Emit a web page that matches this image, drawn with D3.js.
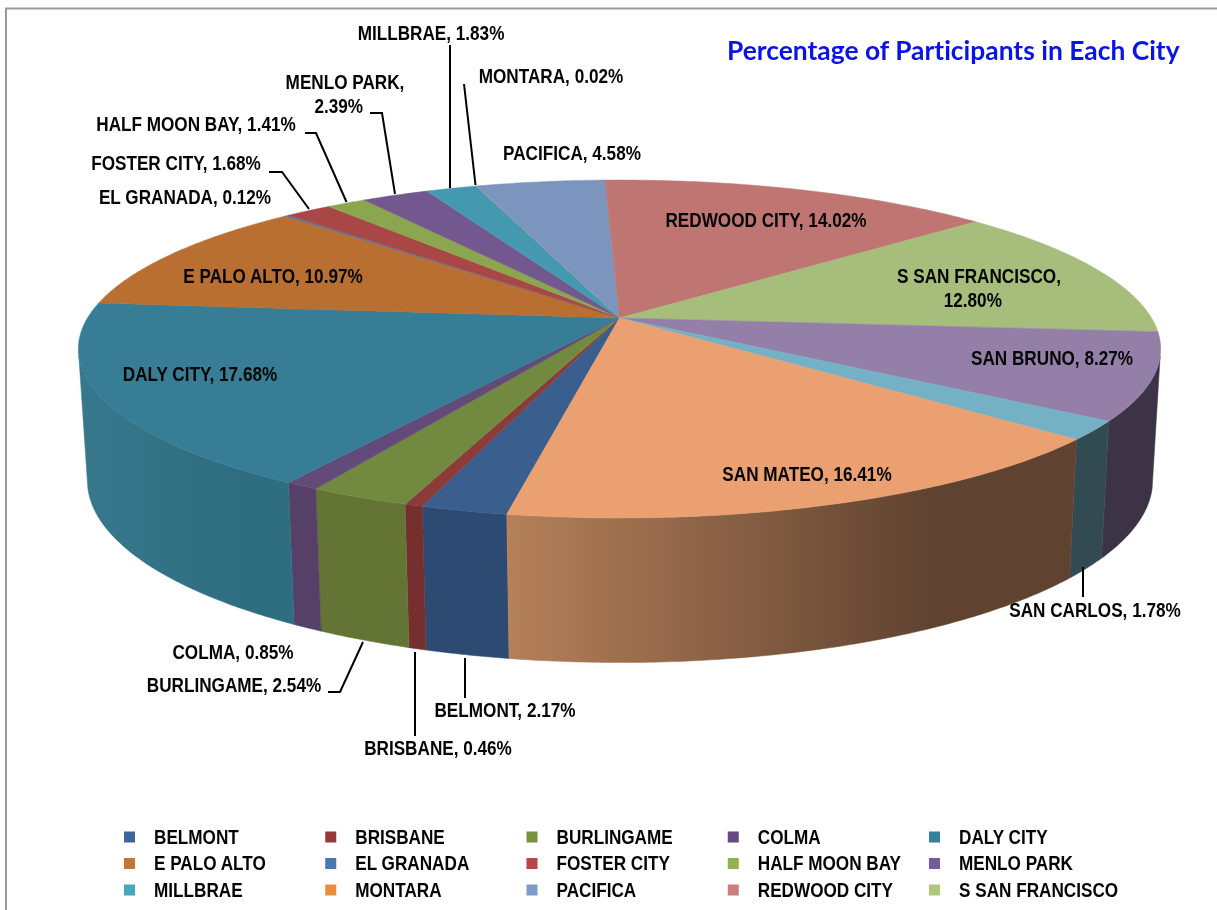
<!DOCTYPE html>
<html lang="en">
    <head>
        <meta charset="utf-8">
        <title>Percentage of Participants in Each City</title>
        <script type="text/javascript" src="https://d3js.org/d3.v7.min.js"></script>
        <style type="text/css">
            body { margin: 0; background: white; }
            svg { display: block; filter: blur(0.45px); }
            text {
                font-family: "Liberation Sans", Arial, sans-serif;
                font-weight: bold;
                font-size: 19.4px;
                fill: #050505;
            }
            .title {
                font-family: Lato, sans-serif;
                font-size: 26.4px;
                font-variant-ligatures: none;
                fill: #0a14e6;
            }
        </style>
    </head>
    <body>
        <script type="text/javascript">

        // Data, slices run clockwise from BELMONT
        var cities = ["BELMONT", "BRISBANE", "BURLINGAME", "COLMA", "DALY CITY", "E PALO ALTO", "EL GRANADA",
            "FOSTER CITY", "HALF MOON BAY", "MENLO PARK", "MILLBRAE", "MONTARA", "PACIFICA", "REDWOOD CITY",
            "S SAN FRANCISCO", "SAN BRUNO", "SAN CARLOS", "SAN MATEO"];
        var percents = [2.17, 0.46, 2.54, 0.85, 17.68, 10.97, 0.12, 1.68, 1.41, 2.39, 1.83, 0.02, 4.58, 14.02, 12.80, 8.27, 1.78, 16.41];

        // the legend is cut off by the bottom of the picture after 15 entries
        var legendCount = 15;

        var topColors = ["#3a5f8f", "#8d3b39", "#728a40", "#624b79", "#377d96", "#b86f31", "#4d76a9", "#a84745", "#8ba64e",
            "#73588f", "#4499b0", "#d9a070", "#7c95be", "#bf7673", "#a7bd7c", "#947fa8", "#74b1c5", "#eba071"];
        var legendColors = ["#3d6595", "#953a38", "#799142", "#644b80", "#35809a", "#c17732", "#4977b3", "#b14845", "#93b24f",
            "#77599d", "#47a7bf", "#ea8c3e", "#7f9cc8", "#cb7d7b", "#afc67f", "#947fa8", "#74b1c5", "#eba071"];
        var wallLeft = ["#2d4b72", "#742f2e", "#637434", "#564067", "#37788c", "#8a5a2a", "#3a5f8f", "#8d3b39", "#728a40",
            "#5f4a78", "#37808f", "#b06a30", "#64799a", "#9c605e", "#8a9b65", "#3d3346", "#324b52", "#b5805a"];
        var wallRight = ["#2d4b72", "#742f2e", "#637434", "#564067", "#2f6d80", "#8a5a2a", "#3a5f8f", "#8d3b39", "#728a40",
            "#5f4a78", "#37808f", "#b06a30", "#64799a", "#9c605e", "#8a9b65", "#3d3346", "#324b52", "#5f4230"];

        // Width and Height
        var w = 1217;
        var h = 910;

        // the text of the picture is Arial squeezed sideways
        var squeeze = 0.885;

        // Label layout: centre x and y of the text, in the same order as cities
        var labelLines = [["BELMONT, 2.17%"], ["BRISBANE, 0.46%"], ["BURLINGAME, 2.54%"], ["COLMA, 0.85%"], ["DALY CITY, 17.68%"],
            ["E PALO ALTO, 10.97%"], ["EL GRANADA, 0.12%"], ["FOSTER CITY, 1.68%"], ["HALF MOON BAY, 1.41%"],
            ["MENLO PARK,", "2.39%"], ["MILLBRAE, 1.83%"], ["MONTARA, 0.02%"], ["PACIFICA, 4.58%"], ["REDWOOD CITY, 14.02%"],
            ["S SAN FRANCISCO,", "12.80%"], ["SAN BRUNO, 8.27%"], ["SAN CARLOS, 1.78%"], ["SAN MATEO, 16.41%"]];
        var labelX = [505, 438, 234, 233, 200, 273, 185, 176, 196, 345, 431, 551, 572, 766, 979, 1052, 1095, 807];
        var labelY = [710, 748, 685, 652, 374, 276, 197, 163, 124, 82, 33, 76, 153, 220, 276, 358, 610, 474];

        // Leader lines, from the label to the edge of the slice
        var leaders = [
            [[465, 658], [465, 698]],
            [[415, 652], [415, 736]],
            [[328, 692], [340, 692], [363, 642]],
            [[269, 172], [282, 172], [309, 209]],
            [[305, 133], [316, 133], [346.5, 202]],
            [[370, 113], [382, 113], [395, 194]],
            [[450, 45], [450, 188]],
            [[464, 84], [475.5, 185]],
            [[1083, 567], [1083, 597]]
        ];

        // Crea SVG
        var svg = d3.select("body")
                    .append("svg")
                    .attr("width", w)
                    .attr("height", h);

        var defs = svg.append("defs");

        // Frame, only top and left are in the picture
        svg.append("path")
            .attr("d", "M6,910V8.5H1217")
            .attr("fill", "none")
            .attr("stroke", "#9a9a9a")
            .attr("stroke-width", 2);

        // Pie Layout, first slice starts just past the front
        var first = 190 * Math.PI / 180;
        var pie = d3.pie()
            .sort(null)
            .startAngle(first)
            .endAngle(first + 2 * Math.PI);
        var slices = pie(percents);

        // Perspective projection of a disc, top and bottom rim
        var topRim = { cx: 619.5, cy: 318, a: 163.3, b: 532, k: 0.1834 };
        var bottomRim = { cx: 620, cy: 447, a: 176, b: 523.6, k: 0.1834 };

        function project(rim, angle) {
            var u = Math.sin(angle);
            var v = -Math.cos(angle);
            var d = 1 - rim.k * v;
            return [rim.cx + rim.b * u / d, rim.cy + rim.a * v / d];
        }

        function sample(start, end) {
            var n = Math.max(2, Math.ceil((end - start) / 0.01));
            return d3.range(n + 1).map(function(i) {
                return start + (end - start) * i / n;
            });
        }

        var line = d3.line();

        // Pinta paredes, only between the two tangent lines of the side
        var wallMin = 103 * Math.PI / 180;
        var wallMax = 257 * Math.PI / 180;

        slices.forEach(function(d, i) {
            var turn = d.startAngle >= 2 * Math.PI ? 2 * Math.PI : 0;
            var start = Math.max(d.startAngle - turn, wallMin);
            var end = Math.min(d.endAngle - turn, wallMax);
            if (end <= start) return;

            var angles = sample(start, end);
            var upper = angles.map(function(a) { return project(topRim, a); });
            var lower = angles.map(function(a) { return project(bottomRim, a); }).reverse();

            var xs = d3.extent(upper.concat(lower), function(p) { return p[0]; });
            var grad = defs.append("linearGradient")
                .attr("id", "wall" + i)
                .attr("gradientUnits", "userSpaceOnUse")
                .attr("x1", xs[0]).attr("x2", xs[1])
                .attr("y1", 0).attr("y2", 0);
            grad.append("stop").attr("offset", 0).attr("stop-color", wallLeft[i]);
            grad.append("stop").attr("offset", 0.75).attr("stop-color", wallRight[i]);
            grad.append("stop").attr("offset", 1).attr("stop-color", wallRight[i]);

            svg.append("path")
                .attr("d", line(upper.concat(lower)) + "Z")
                .attr("fill", "url(#wall" + i + ")")
                .attr("stroke", "url(#wall" + i + ")")
                .attr("stroke-width", 0.5);
        });

        // Pinta arcos
        svg.selectAll("path.slice")
            .data(slices)
            .enter()
            .append("path")
            .attr("class", "slice")
            .attr("fill", function(d, i) { return topColors[i]; })
            .attr("stroke", function(d, i) { return topColors[i]; })
            .attr("stroke-width", 0.5)
            .attr("d", function(d) {
                var pts = sample(d.startAngle, d.endAngle).map(function(a) { return project(topRim, a); });
                pts.unshift([topRim.cx, topRim.cy]);
                return line(pts) + "Z";
            });

        // Leader lines
        svg.selectAll("path.leader")
            .data(leaders)
            .enter()
            .append("path")
            .attr("class", "leader")
            .attr("d", line)
            .attr("fill", "none")
            .attr("stroke", "#000")
            .attr("stroke-width", 2);

        // Pinta texto
        var labels = svg.selectAll("text.label")
            .data(labelLines)
            .enter()
            .append("text")
            .attr("class", "label")
            .attr("text-anchor", "middle")
            .attr("transform", function(d, i) {
                return "translate(" + labelX[i] + "," + (labelY[i] + 7) + ") scale(" + squeeze + ",1)";
            });

        // second lines sit a little left, the first line ends in a comma
        labels.selectAll("tspan")
            .data(function(d) { return d; })
            .enter()
            .append("tspan")
            .attr("x", function(d, i) { return i ? -7 : 0; })
            .attr("dy", function(d, i) { return i ? 24 : 0; })
            .text(function(d) { return d; });

        svg.append("text")
            .attr("class", "title")
            .attr("x", 727)
            .attr("y", 60)
            .text("Percentage of Participants in Each City");

        // Legend
        var col = d3.scaleLinear().domain([0, 4]).range([124, 929]);
        var row = d3.scaleLinear().domain([0, 2]).range([837, 890]);

        var items = svg.selectAll("g.legend")
            .data(cities.slice(0, legendCount))
            .enter()
            .append("g")
            .attr("class", "legend")
            .attr("transform", function(d, i) {
                return "translate(" + col(i % 5) + "," + row(Math.floor(i / 5)) + ")";
            });

        items.append("rect")
            .attr("y", -5.5)
            .attr("width", 11)
            .attr("height", 11)
            .attr("fill", function(d, i) { return legendColors[i]; });

        items.append("text")
            .attr("transform", "translate(30,0) scale(" + squeeze + ",1)")
            .attr("dy", "0.36em")
            .text(function(d) { return d; });

        </script>
    </body>
</html>
